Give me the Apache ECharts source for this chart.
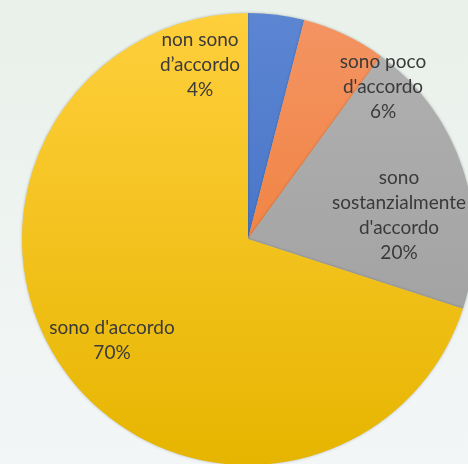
<!DOCTYPE html>
<html>
<head>
<meta charset="utf-8">
<script src="https://cdn.jsdelivr.net/npm/echarts@6/dist/echarts.min.js"></script>
<style>
  html, body { margin: 0; padding: 0; }
  #chart { width: 468px; height: 464px; }
</style>
</head>
<body>
<div id="chart"></div>
<script>
// risposte e percentuali
const categories = ['non sono\nd\u2019accordo', 'sono poco\nd\'accordo', 'sono\nsostanzialmente\nd\'accordo', 'sono d\'accordo'];
const values = [4, 6, 20, 70];
// colori delle fette (chiaro in alto, scuro in basso)
const topColors = ['#5c86d2', '#f49463', '#b1b1b1', '#ffcf3c'];
const bottomColors = ['#3866c0', '#ee7526', '#9c9c9c', '#e6b500'];
// dove stanno le etichette
const labelPos = [[200, 65], [383, 87], [399, 215], [112, 340]];

const grad = (i) => new echarts.graphic.LinearGradient(0, 14, 0, 465, [
  { offset: 0, color: topColors[i] },
  { offset: 1, color: bottomColors[i] }
], true);

const chart = echarts.init(document.getElementById('chart'));
chart.setOption({
  animation: false,
  backgroundColor: new echarts.graphic.LinearGradient(0, 0, 0, 1, [
    { offset: 0, color: '#e9f1ea' },
    { offset: 1, color: '#f3f6f7' }
  ]),
  series: [{
    type: 'pie',
    center: [248, 239],
    radius: 226,
    startAngle: 90,
    clockwise: true,
    data: categories.map((name, i) => ({
      name,
      value: values[i],
      itemStyle: { color: grad(i) }
    })),
    itemStyle: {
      shadowColor: 'rgba(0,0,0,0.25)',
      shadowBlur: 3
    },
    label: {
      show: true,
      position: 'inside',
      formatter: '{b}\n{c}%',
      fontFamily: 'Lato',
      fontSize: 19,
      lineHeight: 25,
      color: '#3a3a3a',
      align: 'center'
    },
    labelLine: { show: false },
    labelLayout: (p) => ({
      x: labelPos[p.dataIndex][0],
      y: labelPos[p.dataIndex][1],
      align: 'center',
      verticalAlign: 'middle'
    })
  }]
});
</script>
</body>
</html>
